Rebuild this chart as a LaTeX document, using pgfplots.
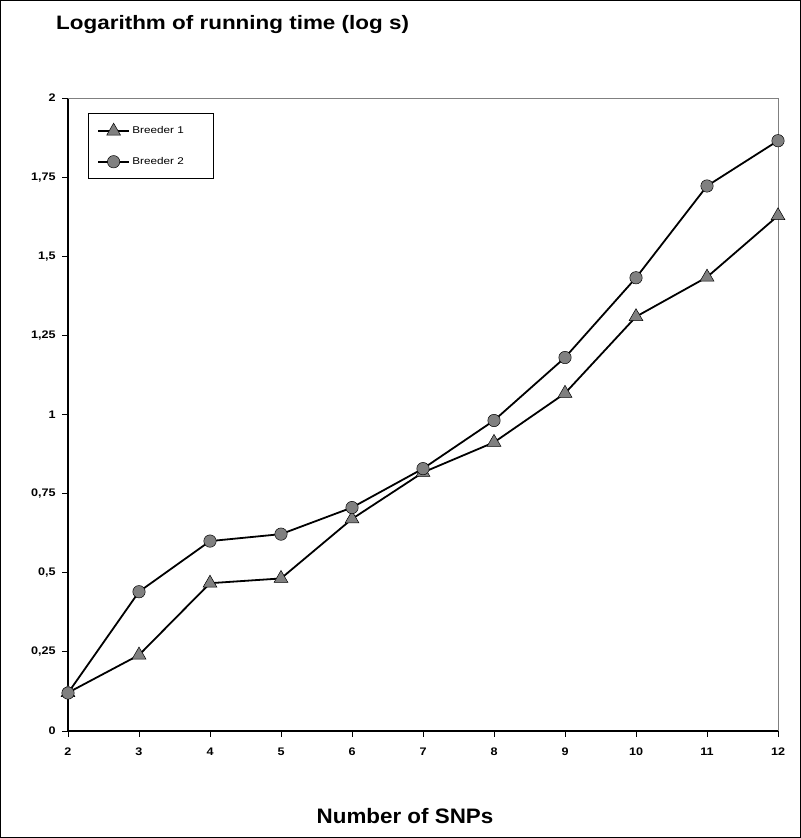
\documentclass[border=0pt]{standalone}
\usepackage{pgfplots}
\pgfplotsset{compat=1.18}
\usepackage{fontspec}
\setmainfont{Liberation Sans}
\definecolor{markgray}{RGB}{128,128,128}
\begin{document}
\begin{tikzpicture}[x=1bp,y=1bp]
\useasboundingbox (0,0) rectangle (801,838);
\draw[line width=1.5bp] (0.75,0.75) rectangle (800.25,837.25);
\node[anchor=base west,font=\fontsize{19.5}{22}\selectfont\bfseries,inner sep=0pt,xscale=1.155] at (56,808) {Logarithm of running time (log s)};
\node[anchor=base,font=\fontsize{21}{24}\selectfont\bfseries,inner sep=0pt,xscale=1.07] at (405,14) {Number of SNPs};
\begin{axis}[
  at={(68bp,107bp)}, anchor=south west,
  scale only axis, width=710bp, height=633bp,
  xmin=2, xmax=12, ymin=0, ymax=2,
  xtick={2,...,12},
  ytick={0,0.25,...,2},
  axis x line*=bottom, axis y line*=left,
  axis line style={line width=1.3bp, black},
  tick align=outside,
  major tick length=6bp,
  tick style={black, line width=0.8bp},
  ticklabel style={font=\fontsize{11}{13}\selectfont\bfseries, xscale=1.15},
  /pgf/number format/assume math mode=true,
  /pgf/number format/use comma,
  xticklabel style={yshift=-7bp},
  yticklabel style={xshift=-2bp},
  clip=false,
  legend style={at={(rel axis cs:0.0282,0.9763)}, anchor=north west,
    draw=black, font=\fontsize{9.8}{11}\selectfont,
    inner xsep=9bp, inner ysep=10bp, row sep=18bp,
    legend cell align=left, nodes={xscale=1.2}},
  legend image code/.code={%
    \draw[line width=1.8bp, mark repeat=2,mark phase=2] plot coordinates {(0bp,0bp) (15.5bp,0bp) (31bp,0bp)};},
]
\addplot[black, line width=1.8bp, mark=triangle*, mark size=8bp,
  mark options={fill=markgray, draw=black, line width=0.5bp}]
coordinates {(2,0.121) (3,0.240) (4,0.467) (5,0.482) (6,0.670) (7,0.817) (8,0.912) (9,1.067) (10,1.309) (11,1.434) (12,1.628)};
\addlegendentry{Breeder 1\rule{15bp}{0pt}}
\addplot[black, line width=1.8bp, mark=*, mark size=6.2bp,
  mark options={fill=markgray, draw=black, line width=0.5bp}]
coordinates {(2,0.120) (3,0.440) (4,0.600) (5,0.622) (6,0.706) (7,0.829) (8,0.981) (9,1.180) (10,1.432) (11,1.722) (12,1.865)};
\addlegendentry{Breeder 2\rule{15bp}{0pt}}
\draw[gray, line width=0.8bp] (rel axis cs:0,1) -- (rel axis cs:1,1) -- (rel axis cs:1,0);
\end{axis}
\end{tikzpicture}
\end{document}
